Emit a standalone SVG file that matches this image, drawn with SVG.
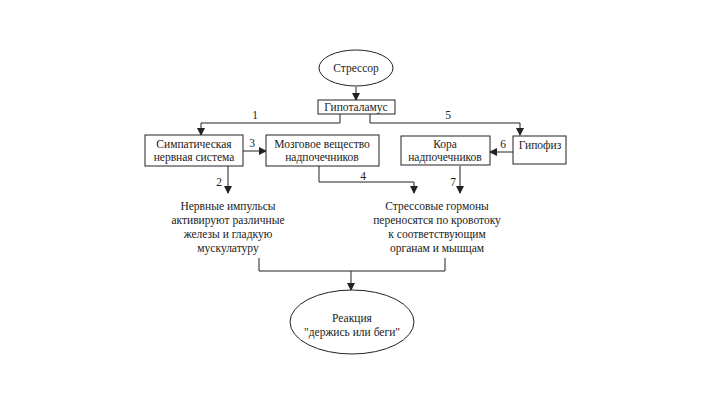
<svg xmlns="http://www.w3.org/2000/svg" width="720" height="405" viewBox="0 0 720 405">
<style>
text{font-family:'Liberation Serif','Times New Roman',serif;font-size:11.5px;fill:#222;text-anchor:middle}
.b{fill:#fff;stroke:#222;stroke-width:1}
.c{fill:none;stroke:#222;stroke-width:1}
</style>
<defs>
<marker id="a" markerWidth="8" markerHeight="8" refX="7" refY="4" orient="auto" markerUnits="userSpaceOnUse">
<path d="M0,0 L8,4 L0,8 z" fill="#222"/>
</marker>
</defs>
<rect width="720" height="405" fill="#fff"/>
<g id="connectors">
<path class="c" d="M356,87 V100" marker-end="url(#a)"/>
<path class="c" d="M340,114 V123 H201 V135" marker-end="url(#a)"/>
<path class="c" d="M370,114 V123 H520 V135" marker-end="url(#a)"/>
<path class="c" d="M243,151 H266" marker-end="url(#a)"/>
<path class="c" d="M513,152 H490" marker-end="url(#a)"/>
<path class="c" d="M228,166 V193" marker-end="url(#a)"/>
<path class="c" d="M319,166 V182 H414 V193" marker-end="url(#a)"/>
<path class="c" d="M460,166 V193" marker-end="url(#a)"/>
<path class="c" d="M259,258 V271 H445 V258"/>
<path class="c" d="M351,271 V290" marker-end="url(#a)"/>
<text x="255" y="119">1</text>
<text x="448" y="119">5</text>
<text x="252" y="147">3</text>
<text x="503" y="148">6</text>
<text x="219" y="186">2</text>
<text x="363" y="180">4</text>
<text x="453" y="186">7</text>
</g>
<g id="stressor">
<ellipse class="b" cx="356" cy="68" rx="37" ry="18"/>
<text x="356" y="72">Стрессор</text>
</g>
<g id="hypothalamus">
<rect class="b" x="318" y="100" width="77" height="14"/>
<text x="356" y="111">Гипоталамус</text>
</g>
<g id="sympathetic">
<rect class="b" x="145" y="135" width="98" height="31"/>
<text x="194" y="148">Симпатическая</text>
<text x="194" y="161">нервная система</text>
</g>
<g id="medulla">
<rect class="b" x="266" y="135" width="113" height="31"/>
<text x="322" y="148">Мозговое вещество</text>
<text x="322" y="161">надпочечников</text>
</g>
<g id="cortex">
<rect class="b" x="401" y="136" width="89" height="29"/>
<text x="445" y="148">Кора</text>
<text x="445" y="161">надпочечников</text>
</g>
<g id="pituitary">
<rect class="b" x="513" y="136" width="53" height="28"/>
<text x="540" y="149">Гипофиз</text>
</g>
<g id="nerve-text">
<text x="228" y="210">Нервные импульсы</text>
<text x="228" y="224">активируют различные</text>
<text x="228" y="238">железы и гладкую</text>
<text x="228" y="252">мускулатуру</text>
</g>
<g id="hormone-text">
<text x="437" y="210">Стрессовые гормоны</text>
<text x="437" y="224">переносятся по кровотоку</text>
<text x="437" y="238">к соответствующим</text>
<text x="437" y="252">органам и мышцам</text>
</g>
<g id="reaction">
<ellipse class="b" cx="352" cy="322" rx="62" ry="32"/>
<text x="352" y="322">Реакция</text>
<text x="352" y="336">"держись или беги"</text>
</g>
</svg>
